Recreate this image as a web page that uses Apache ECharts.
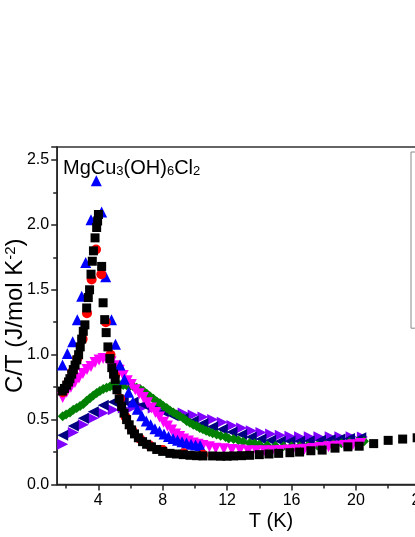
<!DOCTYPE html>
<html>
<head>
<meta charset="utf-8">
<title>MgCu3(OH)6Cl2 C/T</title>
<script src="https://cdn.jsdelivr.net/npm/echarts@6.0.0/dist/echarts.min.js"></script>
<style>
  html, body { margin: 0; padding: 0; background: #fff; }
  #chart { width: 415px; height: 537px; }
</style>
</head>
<body>
<div id="chart"></div>
<script>
// legend names (legend box is cut off at the right edge)
const fieldNames = ['0 T', '0.5 T', '1 T', '3 T', '5 T', '7 T', '9 T']

// [T (K), C/T (J/mol K^2)]
const blackSq = [[1.77,0.72],[1.90,0.74],[2.04,0.765],[2.15,0.79],[2.24,0.815],[2.35,0.85],[2.45,0.885],[2.56,0.92],[2.67,0.96],[2.78,1.00],[2.88,1.06],[2.97,1.12],[3.07,1.18],[3.17,1.23],[3.28,1.36],[3.38,1.44],[3.46,1.50],[3.55,1.62],[3.63,1.72],[3.70,1.80],[3.80,1.90],[3.90,1.98],[3.96,2.03],[4.01,2.08],[4.21,1.68],[4.30,1.40],[4.40,1.27],[4.49,1.17],[4.60,1.06],[4.72,0.97],[4.84,0.90],[4.95,0.85],[5.05,0.81],[5.16,0.73],[5.30,0.66],[5.45,0.60],[5.60,0.55],[5.76,0.50],[5.92,0.46],[6.07,0.42],[6.25,0.39],[6.49,0.36],[6.75,0.33],[7.00,0.31],[7.30,0.29],[7.63,0.27],[8.00,0.255],[8.45,0.24],[8.85,0.235],[9.28,0.23],[9.70,0.225],[10.1,0.222],[10.5,0.22],[11.1,0.22],[11.6,0.218],[12.0,0.218],[12.4,0.22],[12.9,0.222],[13.4,0.225],[14.0,0.23],[14.6,0.235],[15.2,0.24],[15.9,0.245],[16.5,0.25],[17.2,0.26],[17.9,0.265],[18.7,0.28],[19.5,0.29],[20.2,0.295],[21.1,0.315],[22.0,0.34],[22.9,0.35],[23.8,0.36]]
const redCirc = [[1.80,0.71],[2.10,0.78],[2.40,0.87],[2.70,0.97],[3.03,1.12],[3.30,1.32],[3.59,1.58],[3.86,1.81],[4.19,1.62],[4.47,1.25],[4.76,1.00],[5.04,0.84],[5.35,0.66],[5.70,0.52],[6.10,0.42],[6.60,0.35],[7.20,0.30],[8.00,0.265],[9.30,0.24],[10.5,0.23]]
const blueUp = [[1.78,0.92],[2.08,1.01],[2.41,1.10],[2.70,1.27],[2.97,1.45],[3.22,1.71],[3.55,2.04],[3.88,2.34],[4.21,2.10],[4.46,1.60],[4.82,1.27],[5.07,1.08],[5.35,0.92],[5.62,0.81],[5.88,0.71],[6.15,0.635],[6.42,0.58],[6.70,0.53],[6.98,0.49],[7.25,0.46],[7.52,0.43],[7.80,0.41],[8.08,0.39],[8.36,0.37],[8.64,0.355],[8.92,0.34],[9.20,0.33],[9.48,0.32],[9.76,0.31],[10.04,0.305],[10.32,0.30]]
const magentaDown = [[1.79,0.67],[2.04,0.71],[2.30,0.75],[2.55,0.785],[2.80,0.82],[3.05,0.855],[3.30,0.885],[3.55,0.91],[3.80,0.94],[4.05,0.96],[4.30,0.97],[4.55,0.965],[4.80,0.945],[5.05,0.915],[5.30,0.88],[5.55,0.84],[5.80,0.80],[6.05,0.77],[6.30,0.73],[6.55,0.70],[6.80,0.67],[7.05,0.63],[7.30,0.59],[7.55,0.555],[7.80,0.52],[8.05,0.48],[8.30,0.45],[8.55,0.42],[8.80,0.39],[9.05,0.37],[9.30,0.35],[9.60,0.335],[9.90,0.32],[10.2,0.31],[10.5,0.30],[10.9,0.29],[11.3,0.28],[11.8,0.275],[12.3,0.27],[12.8,0.265],[13.3,0.26],[13.8,0.26],[14.3,0.26],[14.8,0.26],[15.3,0.262],[15.8,0.265],[16.3,0.268],[16.8,0.272],[17.3,0.278],[17.8,0.285],[18.3,0.29],[18.8,0.295],[19.3,0.30],[19.8,0.307],[20.3,0.315]]
const greenDia = [[1.79,0.525],[2.00,0.54],[2.24,0.555],[2.45,0.575],[2.66,0.59],[2.87,0.605],[3.07,0.62],[3.28,0.645],[3.48,0.665],[3.69,0.685],[3.90,0.705],[4.10,0.72],[4.31,0.735],[4.52,0.745],[4.73,0.755],[4.93,0.76],[5.14,0.765],[5.35,0.767],[5.55,0.767],[5.76,0.765],[5.97,0.76],[6.18,0.755],[6.39,0.745],[6.60,0.735],[6.80,0.72],[7.01,0.70],[7.21,0.68],[7.42,0.66],[7.63,0.64],[7.83,0.625],[8.04,0.605],[8.25,0.59],[8.45,0.57],[8.66,0.555],[8.87,0.54],[9.07,0.525],[9.28,0.51],[9.49,0.49],[9.69,0.475],[9.90,0.46],[10.1,0.45],[10.3,0.435],[10.5,0.425],[10.7,0.415],[10.9,0.405],[11.1,0.395],[11.35,0.385],[11.6,0.375],[11.9,0.365],[12.1,0.355],[12.4,0.35],[12.7,0.34],[13.0,0.33],[13.4,0.32],[13.7,0.315],[14.0,0.308],[14.5,0.30],[15.0,0.297],[15.5,0.295],[16.0,0.295],[16.5,0.295],[17.0,0.297],[17.6,0.30],[18.1,0.305],[18.6,0.31],[19.1,0.318],[19.6,0.325],[20.1,0.33],[20.5,0.333]]
const navyLeft = [[1.79,0.38],[2.45,0.45],[3.07,0.51],[3.69,0.56],[4.31,0.61],[4.93,0.635],[5.55,0.645],[6.17,0.635],[6.79,0.615],[7.41,0.59],[8.03,0.56],[8.65,0.53],[9.27,0.51],[9.89,0.49],[10.5,0.47],[11.1,0.445],[11.7,0.425],[12.3,0.405],[12.9,0.385],[13.5,0.365],[14.1,0.35],[14.7,0.34],[15.3,0.333],[15.9,0.333],[16.5,0.333],[17.1,0.335],[17.8,0.34],[18.4,0.345],[19.0,0.35],[19.6,0.355],[20.3,0.36]]
const violetRight = [[1.79,0.31],[2.45,0.40],[3.07,0.46],[3.69,0.51],[4.31,0.55],[4.93,0.575],[5.55,0.59],[6.17,0.595],[6.79,0.595],[7.41,0.59],[8.03,0.58],[8.65,0.565],[9.27,0.55],[9.89,0.535],[10.5,0.52],[11.1,0.50],[11.7,0.48],[12.3,0.455],[12.9,0.435],[13.5,0.415],[14.1,0.40],[14.7,0.39],[15.3,0.38],[15.9,0.372],[16.5,0.368],[17.1,0.368],[17.7,0.368],[18.4,0.368],[19.0,0.368],[19.7,0.368],[20.4,0.366]]

const xMajor = [4, 8, 12, 16, 20, 24, 28]
const xMinor = [2, 6, 10, 14, 18, 22, 26]

const font = 'Arial, "Liberation Sans", sans-serif'
const axisColor = '#222'

const chart = echarts.init(document.getElementById('chart'), null, { renderer: 'canvas' })

function scatter(name, data, symbol, size, color, rotate) {
  return {
    name: name,
    type: 'scatter',
    data: data,
    symbol: symbol,
    symbolSize: size,
    symbolRotate: rotate || 0,
    itemStyle: { color: color, opacity: 1 },
    emphasis: { disabled: true }
  }
}

const option = {
  backgroundColor: '#fff',
  animation: false,
  title: {
    left: 58,
    top: 149,
    text: '{a|MgCu}{s|3}{a|(OH)}{s|6}{a|Cl}{s|2}',
    textStyle: {
      fontWeight: 'normal',
      rich: {
        a: { fontSize: 20, fontFamily: font, fontWeight: 'normal', color: '#000', lineHeight: 24, verticalAlign: 'bottom' },
        s: { fontSize: 13, fontFamily: font, fontWeight: 'normal', color: '#000', lineHeight: 6, verticalAlign: 'bottom' }
      }
    }
  },
  legend: {
    orient: 'vertical',
    left: 411,
    top: 152,
    padding: [10, 10],
    itemGap: 9.7,
    itemWidth: 12,
    itemHeight: 12,
    borderColor: '#888',
    borderWidth: 1,
    textStyle: { fontSize: 14, fontFamily: font, color: '#000' },
    data: fieldNames
  },
  grid: {
    left: 57.2,
    top: 147,
    right: 415 - 484.8,
    bottom: 52.5,
    containLabel: false,
    outerBoundsMode: 'none',
    show: true,
    borderColor: '#333',
    borderWidth: 1.5,
    backgroundColor: 'transparent'
  },
  xAxis: [
    {
      type: 'value',
      min: 1.45,
      max: 28,
      position: 'bottom',
      name: 'T (K)',
      nameLocation: 'middle',
      nameGap: 27,
      nameMoveOverlap: false,
      nameTextStyle: { fontSize: 20, fontFamily: font, color: '#000' },
      axisLine: { lineStyle: { color: axisColor, width: 1.5 } },
      axisTick: { length: 6, customValues: xMajor, lineStyle: { color: axisColor, width: 1.5 } },
      axisLabel: { customValues: xMajor, fontSize: 16, fontFamily: font, color: '#000', margin: 8 },
      splitLine: { show: false }
    },
    {
      type: 'value',
      min: 1.45,
      max: 28,
      position: 'bottom',
      axisLine: { show: false },
      axisTick: { length: 4, customValues: xMinor, lineStyle: { color: axisColor, width: 1.5 } },
      axisLabel: { show: false },
      splitLine: { show: false }
    }
  ],
  yAxis: {
    type: 'value',
    min: 0,
    max: 2.6,
    interval: 0.5,
    name: '{a|C/T (J/mol K}{p|-2}{a|)}',
    nameLocation: 'middle',
    nameGap: 26,
    nameMoveOverlap: false,
    nameTextStyle: {
      rich: {
        a: { fontSize: 24, fontFamily: font, color: '#000', lineHeight: 28, verticalAlign: 'top' },
        p: { fontSize: 15, fontFamily: font, color: '#000', lineHeight: 15, verticalAlign: 'top' }
      }
    },
    axisLine: { show: true, lineStyle: { color: axisColor, width: 1.5 } },
    axisTick: { length: 6, lineStyle: { color: axisColor, width: 1.5 } },
    minorTick: { show: true, splitNumber: 2, length: 4, lineStyle: { color: axisColor, width: 1.5 } },
    axisLabel: { fontSize: 16, fontFamily: font, color: '#000', margin: 8, formatter: v => v.toFixed(1) },
    splitLine: { show: false }
  },
  series: [
    scatter(fieldNames[6], violetRight, 'triangle', 11, '#8000ff', -90),
    scatter(fieldNames[5], navyLeft, 'triangle', 11, '#000080', 90),
    scatter(fieldNames[4], greenDia, 'diamond', 10, '#008000'),
    scatter(fieldNames[3], magentaDown, 'triangle', 11, '#ff00ff', 180),
    scatter(fieldNames[2], blueUp, 'triangle', 11, '#0000ff'),
    scatter(fieldNames[1], redCirc, 'circle', 10, '#ff0000'),
    scatter(fieldNames[0], blackSq, 'rect', 9, '#000000')
  ]
}

chart.setOption(option)
</script>
</body>
</html>
